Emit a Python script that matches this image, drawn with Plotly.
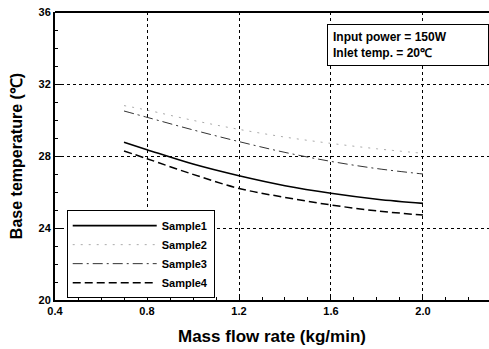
import plotly.graph_objects as go

flow = [0.7, 0.8, 1.0, 1.2, 1.4, 1.6, 1.8, 2.0]
sample1 = [28.76, 28.35, 27.55, 26.9, 26.35, 25.93, 25.6, 25.37]
sample2 = [30.8, 30.55, 29.98, 29.48, 29.05, 28.7, 28.4, 28.15]
sample3 = [30.5, 30.15, 29.45, 28.8, 28.2, 27.7, 27.3, 27.0]
sample4 = [28.28, 27.85, 26.98, 26.2, 25.7, 25.28, 24.95, 24.72]
x_ticks = [0.4, 0.8, 1.2, 1.6, 2.0]
x_labels = ["0.4", "0.8", "1.2", "1.6", "2.0"]
y_ticks = [20, 24, 28, 32, 36]

FONT = "Liberation Sans, Arial, sans-serif"

fig = go.Figure()
fig.add_trace(go.Scatter(x=flow, y=sample1, mode="lines", name="<b>Sample1</b>",
                         line=dict(color="black", width=1.6, shape="spline")))
fig.add_trace(go.Scatter(x=flow, y=sample2, mode="lines", name="<b>Sample2</b>",
                         line=dict(color="#aaaaaa", width=1, dash="2px,6px", shape="spline")))
fig.add_trace(go.Scatter(x=flow, y=sample3, mode="lines", name="<b>Sample3</b>",
                         line=dict(color="#333333", width=1, dash="10px,4px,2px,4px", shape="spline")))
fig.add_trace(go.Scatter(x=flow, y=sample4, mode="lines", name="<b>Sample4</b>",
                         line=dict(color="black", width=1.5, dash="8px,4px", shape="spline")))

fig.add_annotation(xref="paper", yref="paper", x=0.627, y=0.96, xanchor="left", yanchor="top",
                   text="<b>Input power = 150W</b><br><b>Inlet temp. = 20℃</b>",
                   showarrow=False, align="left", bordercolor="black", borderwidth=1,
                   borderpad=5, bgcolor="white", width=150,
                   font=dict(family=FONT, size=12, color="black"))

fig.update_layout(
    width=489, height=349,
    margin=dict(l=55, r=0, t=12, b=49),
    paper_bgcolor="white", plot_bgcolor="white",
    font=dict(family=FONT, color="black"),
    showlegend=True,
    legend=dict(x=0.027, y=0.312, xanchor="left", yanchor="top",
                bordercolor="black", borderwidth=1, bgcolor="white",
                itemwidth=84, tracegroupgap=0,
                font=dict(family=FONT, size=11, color="black"),
                entrywidth=72),
    xaxis=dict(range=[0.4, 2.287], tickvals=x_ticks, ticktext=["<b>%s</b>" % t for t in x_labels],
               showgrid=True, gridcolor="black", gridwidth=1, griddash="3px,3px",
               showline=True, linecolor="black", linewidth=2, mirror=False,
               ticks="inside", ticklen=6, tickcolor="black",
               minor=dict(dtick=0.1, tick0=0.4, ticks="inside", ticklen=3, tickcolor="black", showgrid=False),
               tickfont=dict(family=FONT, size=11, color="black"),
               title=dict(text="<b>Mass flow rate (kg/min)</b>", font=dict(family=FONT, size=17), standoff=14),
               zeroline=False),
    yaxis=dict(range=[20, 36], tickvals=y_ticks, ticktext=["<b>%d</b>" % t for t in y_ticks],
               showgrid=True, gridcolor="black", gridwidth=1, griddash="3px,3px",
               showline=True, linecolor="black", linewidth=2, mirror=False,
               ticks="inside", ticklen=6, tickcolor="black",
               minor=dict(dtick=1, tick0=20, ticks="inside", ticklen=3, tickcolor="black", showgrid=False),
               tickfont=dict(family=FONT, size=11, color="black"),
               title=dict(text="<b>Base temperature (℃)</b>", font=dict(family=FONT, size=16), standoff=12),
               zeroline=False),
)
fig.add_shape(type="line", xref="paper", yref="paper", x0=0, x1=1, y0=1, y1=1,
              line=dict(color="black", width=2))
fig.write_html("out.html")
